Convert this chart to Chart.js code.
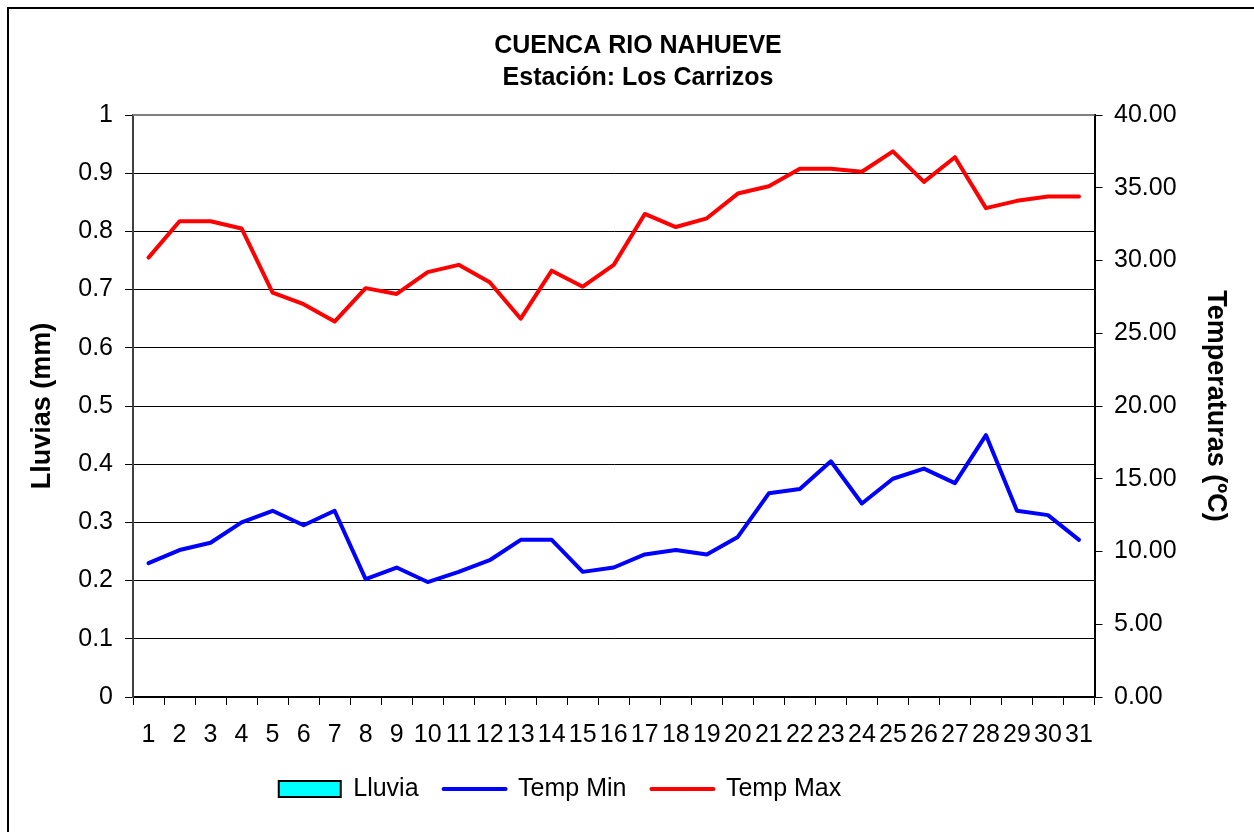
<!DOCTYPE html>
<html>
<head>
<meta charset="utf-8">
<script src="https://cdn.jsdelivr.net/npm/chart.js@4/dist/chart.umd.min.js"></script>
<style>
  html, body { margin: 0; padding: 0; background: #fff; overflow: hidden; }
  #wrap { position: relative; width: 1254px; height: 832px; }
  #frame { position: absolute; left: 7px; top: 7px; width: 1400px; height: 1000px; border: 2px solid #000; pointer-events: none; }
  canvas { position: absolute; left: 0; top: 0; }
</style>
</head>
<body>
<div id="wrap">
  <canvas id="c" width="1254" height="832"></canvas>
  <div id="frame"></div>
</div>
<script>
const titleLines = ['CUENCA RIO NAHUEVE', 'Estación: Los Carrizos'];
const days = ['1','2','3','4','5','6','7','8','9','10','11','12','13','14','15','16','17','18','19','20','21','22','23','24','25','26','27','28','29','30','31'];
const lluvia = [0,0,0,0,0,0,0,0,0,0,0,0,0,0,0,0,0,0,0,0,0,0,0,0,0,0,0,0,0,0,0];
const tempMin = [9.2, 10.1, 10.6, 12.0, 12.8, 11.8, 12.8, 8.1, 8.9, 7.9, 8.6, 9.4, 10.8, 10.8, 8.6, 8.9, 9.8, 10.1, 9.8, 11.0, 14.0, 14.3, 16.2, 13.3, 15.0, 15.7, 14.7, 18.0, 12.8, 12.5, 10.8];
const tempMax = [30.2, 32.7, 32.7, 32.2, 27.8, 27.0, 25.8, 28.1, 27.7, 29.2, 29.7, 28.5, 26.0, 29.3, 28.2, 29.7, 33.2, 32.3, 32.9, 34.6, 35.1, 36.3, 36.3, 36.1, 37.5, 35.4, 37.1, 33.6, 34.1, 34.4, 34.4];
const seriesNames = ['Lluvia', 'Temp Min', 'Temp Max'];
const leftAxisTitle = 'Lluvias (mm)';
const rightAxisTitle = 'Temperaturas (ºC)';

Chart.defaults.font.family = '"Liberation Sans", Arial, Helvetica, sans-serif';
Chart.defaults.color = '#000';

const shiftPlugin = {
  id: 'shiftBoxes',
  afterLayout(chart) {
    const t = chart.titleBlock;
    if (t) { t.left += 11; t.right += 11; }
    const l = chart.legend;
    if (l) { l.left -= 67; l.right -= 67; }
  }
};
const topBorder = {
  id: 'topBorder',
  beforeDatasetsDraw(chart) {
    const {ctx, chartArea: a} = chart;
    ctx.save();
    ctx.strokeStyle = '#808080';
    ctx.lineWidth = 2;
    ctx.beginPath();
    ctx.moveTo(a.left, a.top);
    ctx.lineTo(a.right, a.top);
    ctx.stroke();
    ctx.restore();
  }
};

new Chart(document.getElementById('c'), {
  data: {
    labels: days,
    datasets: [
      {
        type: 'bar', label: seriesNames[0], data: lluvia, yAxisID: 'y',
        backgroundColor: '#00FFFF', borderColor: '#000000', borderWidth: 2,
        pointStyle: 'rect'
      },
      {
        type: 'line', label: seriesNames[1], data: tempMin, yAxisID: 'y1',
        borderColor: '#0000FF', backgroundColor: '#0000FF', borderWidth: 4,
        pointRadius: 0, pointBorderWidth: 4, pointStyle: 'line', tension: 0,
        borderCapStyle: 'round', borderJoinStyle: 'round', fill: false
      },
      {
        type: 'line', label: seriesNames[2], data: tempMax, yAxisID: 'y1',
        borderColor: '#FF0000', backgroundColor: '#FF0000', borderWidth: 4,
        pointRadius: 0, pointBorderWidth: 4, pointStyle: 'line', tension: 0,
        borderCapStyle: 'round', borderJoinStyle: 'round', fill: false
      }
    ]
  },
  options: {
    responsive: false,
    animation: false,
    events: [],
    layout: { padding: { top: 0, left: 0, right: 0, bottom: 20.5 } },
    plugins: {
      tooltip: { enabled: false },
      title: {
        display: true, text: titleLines, color: '#000',
        font: { size: 25, weight: 'bold', lineHeight: 1.28 },
        padding: { top: 30, bottom: 21 }
      },
      legend: {
        display: true, position: 'bottom',
        labels: {
          usePointStyle: true, pointStyleWidth: 62, boxHeight: 16,
          padding: 25, color: '#000', font: { size: 25 },
          generateLabels(chart) {
            const items = Chart.defaults.plugins.legend.labels.generateLabels(chart);
            items.forEach(it => { if (it.pointStyle === 'line') { it.lineCap = 'round'; } });
            return items;
          }
        }
      }
    },
    scales: {
      x: {
        type: 'category', offset: true,
        grid: { display: true, drawOnChartArea: false, offset: true, tickLength: 8, color: '#000', lineWidth: 1 },
        border: { display: true, color: '#000', width: 2 },
        ticks: { autoSkip: false, maxRotation: 0, minRotation: 0, padding: 15, font: { size: 25 }, color: '#000' },
        afterFit(s) { s.height = 54.5; }
      },
      y: {
        type: 'linear', position: 'left', min: 0, max: 1,
        grid: { display: true, drawOnChartArea: true, tickLength: 8, color: '#000', lineWidth: 1 },
        border: { display: true, color: '#404040', width: 2 },
        ticks: { stepSize: 0.1, padding: 12, font: { size: 25 }, color: '#000',
                 callback: v => String(+Number(v).toFixed(1)) },
        title: { display: true, text: leftAxisTitle, color: '#000', font: { size: 27, weight: 'bold' }, padding: { top: 26.7, bottom: 0 } },
        afterFit(s) { s.width = 133; }
      },
      y1: {
        type: 'linear', position: 'right', min: 0, max: 40,
        grid: { display: true, drawOnChartArea: false, tickLength: 8, color: '#000', lineWidth: 1 },
        border: { display: true, color: '#000', width: 2 },
        ticks: { stepSize: 5, padding: 11.5, font: { size: 25 }, color: '#000',
                 callback: v => Number(v).toFixed(2) },
        title: { display: true, text: rightAxisTitle, color: '#000', font: { size: 27, weight: 'bold' }, padding: { top: 22.8, bottom: 0 } },
        afterFit(s) { s.width = 159.5; }
      }
    }
  },
  plugins: [shiftPlugin, topBorder]
});
</script>
</body>
</html>
